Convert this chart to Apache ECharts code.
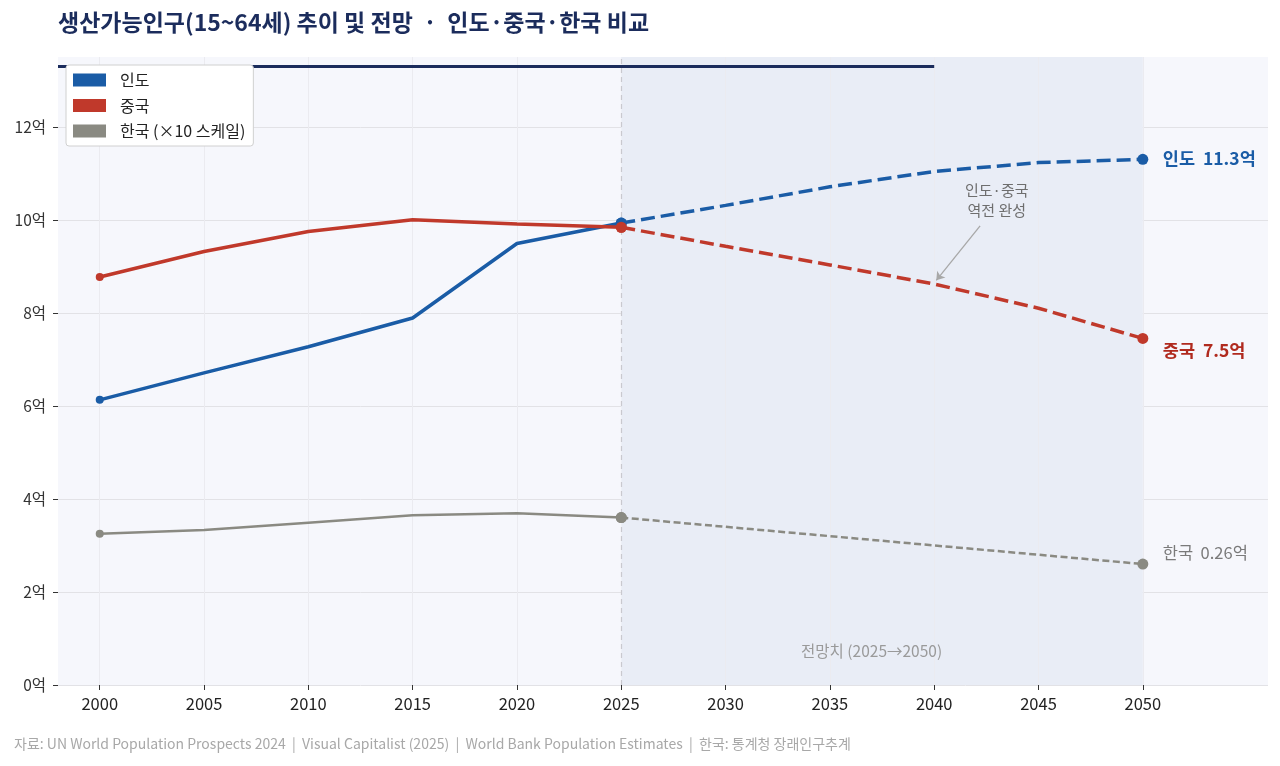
<!DOCTYPE html>
<html>
<head>
<meta charset="utf-8">
<script src="https://cdn.jsdelivr.net/npm/echarts@6/dist/echarts.min.js"></script>
<style>
  html, body { margin: 0; padding: 0; background: #ffffff; }
  #main { width: 1280px; height: 766px; }
</style>
</head>
<body>
<div id="main"></div>
<script>
// 값 (억 명)
var years = [2000, 2005, 2010, 2015, 2020, 2025, 2030, 2035, 2040, 2045, 2050];
var india = [6.13, 6.71, 7.27, 7.89, 9.49, 9.93, 10.31, 10.71, 11.04, 11.23, 11.30];
var china = [8.77, 9.32, 9.75, 10.00, 9.91, 9.84, 9.43, 9.03, 8.62, 8.10, 7.45];
var korea = [0.325, 0.333, 0.349, 0.365, 0.369, 0.360, 0.340, 0.320, 0.300, 0.280, 0.260];
var koreaScale = 10;
var baseYear = 2025;
var yTicks = [0, 2, 4, 6, 8, 10, 12];

var FONT = '"Noto Sans CJK KR", "Noto Sans", sans-serif';
var C_IN = '#1a5ca6', C_CN = '#c0392b', C_KR = '#8a8a82';

var chart = echarts.init(document.getElementById('main'));

function pairs(vals, scale, from, to) {
  var out = [];
  for (var i = 0; i < years.length; i++) {
    if (years[i] >= from && years[i] <= to) out.push([years[i], +(vals[i] * (scale || 1)).toFixed(3)]);
  }
  return out;
}

function dotSize(val) {
  if (val[0] === years[0]) return 8;
  if (val[0] === baseYear || val[0] === years[years.length - 1]) return 11;
  return 0;
}

function lineSeries(name, color, data, width, dash, extra) {
  var s = {
    name: name,
    type: 'line',
    data: data,
    symbol: 'circle',
    symbolSize: dotSize,
    showSymbol: true,
    itemStyle: { color: color },
    lineStyle: { color: color, width: width, type: dash || 'solid' },
    emphasis: { disabled: true },
    z: 5
  };
  for (var k in extra) s[k] = extra[k];
  return s;
}

var last = years.length - 1;

var option = {
  backgroundColor: '#ffffff',
  animation: false,
  textStyle: { fontFamily: FONT },
  title: [{
    text: '생산가능인구(15~64세) 추이 및 전망  ·  인도·중국·한국 비교',
    left: 53, top: 6,
    textStyle: { fontSize: 23, fontWeight: 'bold', color: '#1b2c5c', fontFamily: FONT }
  }, {
    text: '자료: UN World Population Prospects 2024  |  Visual Capitalist (2025)  |  World Bank Population Estimates  |  한국: 통계청 장래인구추계',
    left: 9, top: 732,
    textStyle: { fontSize: 14, fontWeight: 'normal', color: '#a8a8a8', fontFamily: FONT }
  }],
  legend: {
    orient: 'vertical',
    left: 66, top: 65,
    data: ['인도', '중국', '한국 (×10 스케일)'],
    icon: 'rect',
    itemWidth: 33, itemHeight: 13, itemGap: 9.5,
    backgroundColor: '#ffffff',
    borderColor: '#d0d0d0', borderWidth: 1, borderRadius: 3,
    padding: [7, 8, 7, 7],
    textStyle: { fontSize: 16, color: '#222', fontFamily: FONT, padding: [0, 0, 0, 9] },
    z: 20
  },
  grid: { left: 58, right: 12, top: 57, bottom: 81, show: true, backgroundColor: '#f6f7fc', borderWidth: 0 },
  xAxis: {
    type: 'value',
    min: 1998, max: 2056,
    axisLine: { show: false },
    axisTick: { show: true, length: 5, lineStyle: { color: '#333' }, customValues: years },
    axisLabel: { fontSize: 16.5, color: '#222', margin: 10, customValues: years, formatter: function (v) { return String(v); } },
    splitLine: { show: false }
  },
  yAxis: {
    type: 'value',
    min: 0, max: 13.5, interval: 2,
    axisLine: { show: false },
    axisTick: { show: true, length: 5, lineStyle: { color: '#333' }, customValues: yTicks },
    axisLabel: { fontSize: 15.5, color: '#333', margin: 12, customValues: yTicks, formatter: function (v) { return v + '억'; } },
    splitLine: { lineStyle: { color: '#e2e2e6', width: 1 } }
  },
  series: [
    // 배경 요소: 전망 구간, 세로 격자, 기준선
    {
      type: 'line', data: [], silent: true,
      markArea: {
        silent: true,
        itemStyle: { color: '#e9edf6' },
        data: [[{ xAxis: baseYear }, { xAxis: years[last] }]],
        label: { show: false }
      },
      markLine: {
        silent: true, symbol: 'none', animation: false,
        label: { show: false },
        lineStyle: { color: '#ebebf0', width: 1, type: 'solid' },
        data: years.filter(function (y) { return y !== baseYear; }).map(function (y) { return { xAxis: y }; })
          .concat([{ xAxis: baseYear, lineStyle: { color: '#c9c9cf', width: 1.2, type: [5, 4] } }])
          .concat([[{ coord: [1998, 13.3], lineStyle: { color: '#1b2c5c', width: 3, type: 'solid' } }, { coord: [2040, 13.3] }]])
      },
      z: 1
    },
    lineSeries('인도', C_IN, pairs(india, 1, 2000, baseYear), 3.5, 'solid'),
    lineSeries('중국', C_CN, pairs(china, 1, 2000, baseYear), 3.5, 'solid'),
    lineSeries('한국 (×10 스케일)', C_KR, pairs(korea, koreaScale, 2000, baseYear), 2.5, 'solid'),
    lineSeries('인도', C_IN, pairs(india, 1, baseYear, 2050), 3.5, [14, 6], {
      endLabel: { show: true, formatter: '인도  ' + india[last].toFixed(1) + '억', color: C_IN, fontSize: 17.5, fontWeight: 'bold', distance: 20, offset: [0, -1], fontFamily: FONT }
    }),
    lineSeries('중국', C_CN, pairs(china, 1, baseYear, 2050), 3.5, [14, 6], {
      endLabel: { show: true, formatter: '중국  ' + china[last].toFixed(1) + '억', color: '#b02a1e', fontSize: 17.5, fontWeight: 'bold', distance: 20, offset: [0, 12], fontFamily: FONT },
      markLine: {
        silent: true, symbol: ['none', 'arrow'], symbolSize: 8,
        label: { show: false },
        lineStyle: { color: '#a8a8a8', width: 1.3, type: 'solid' },
        data: [[{ coord: [2042.2, 9.87] }, { coord: [2040.1, 8.7] }]]
      },
      markPoint: {
        silent: true, symbol: 'circle', symbolSize: 0,
        data: [
          { coord: [2043, 10.43], label: { show: true, formatter: '인도·중국\n역전 완성', color: '#6e6e6e', fontSize: 15, lineHeight: 20, align: 'center', fontFamily: FONT } },
          { coord: [2037, 0.73], label: { show: true, formatter: '전망치 (2025→2050)', color: '#9a9a9a', fontSize: 15.5, align: 'center', fontFamily: FONT } }
        ]
      }
    }),
    lineSeries('한국 (×10 스케일)', C_KR, pairs(korea, koreaScale, baseYear, 2050), 2.5, [7, 3.5], {
      endLabel: { show: true, formatter: '한국  ' + korea[last].toFixed(2) + '억', color: '#7a7a7a', fontSize: 16.5, distance: 20, offset: [0, -11], fontFamily: FONT }
    })
  ]
};

chart.setOption(option);
</script>
</body>
</html>
